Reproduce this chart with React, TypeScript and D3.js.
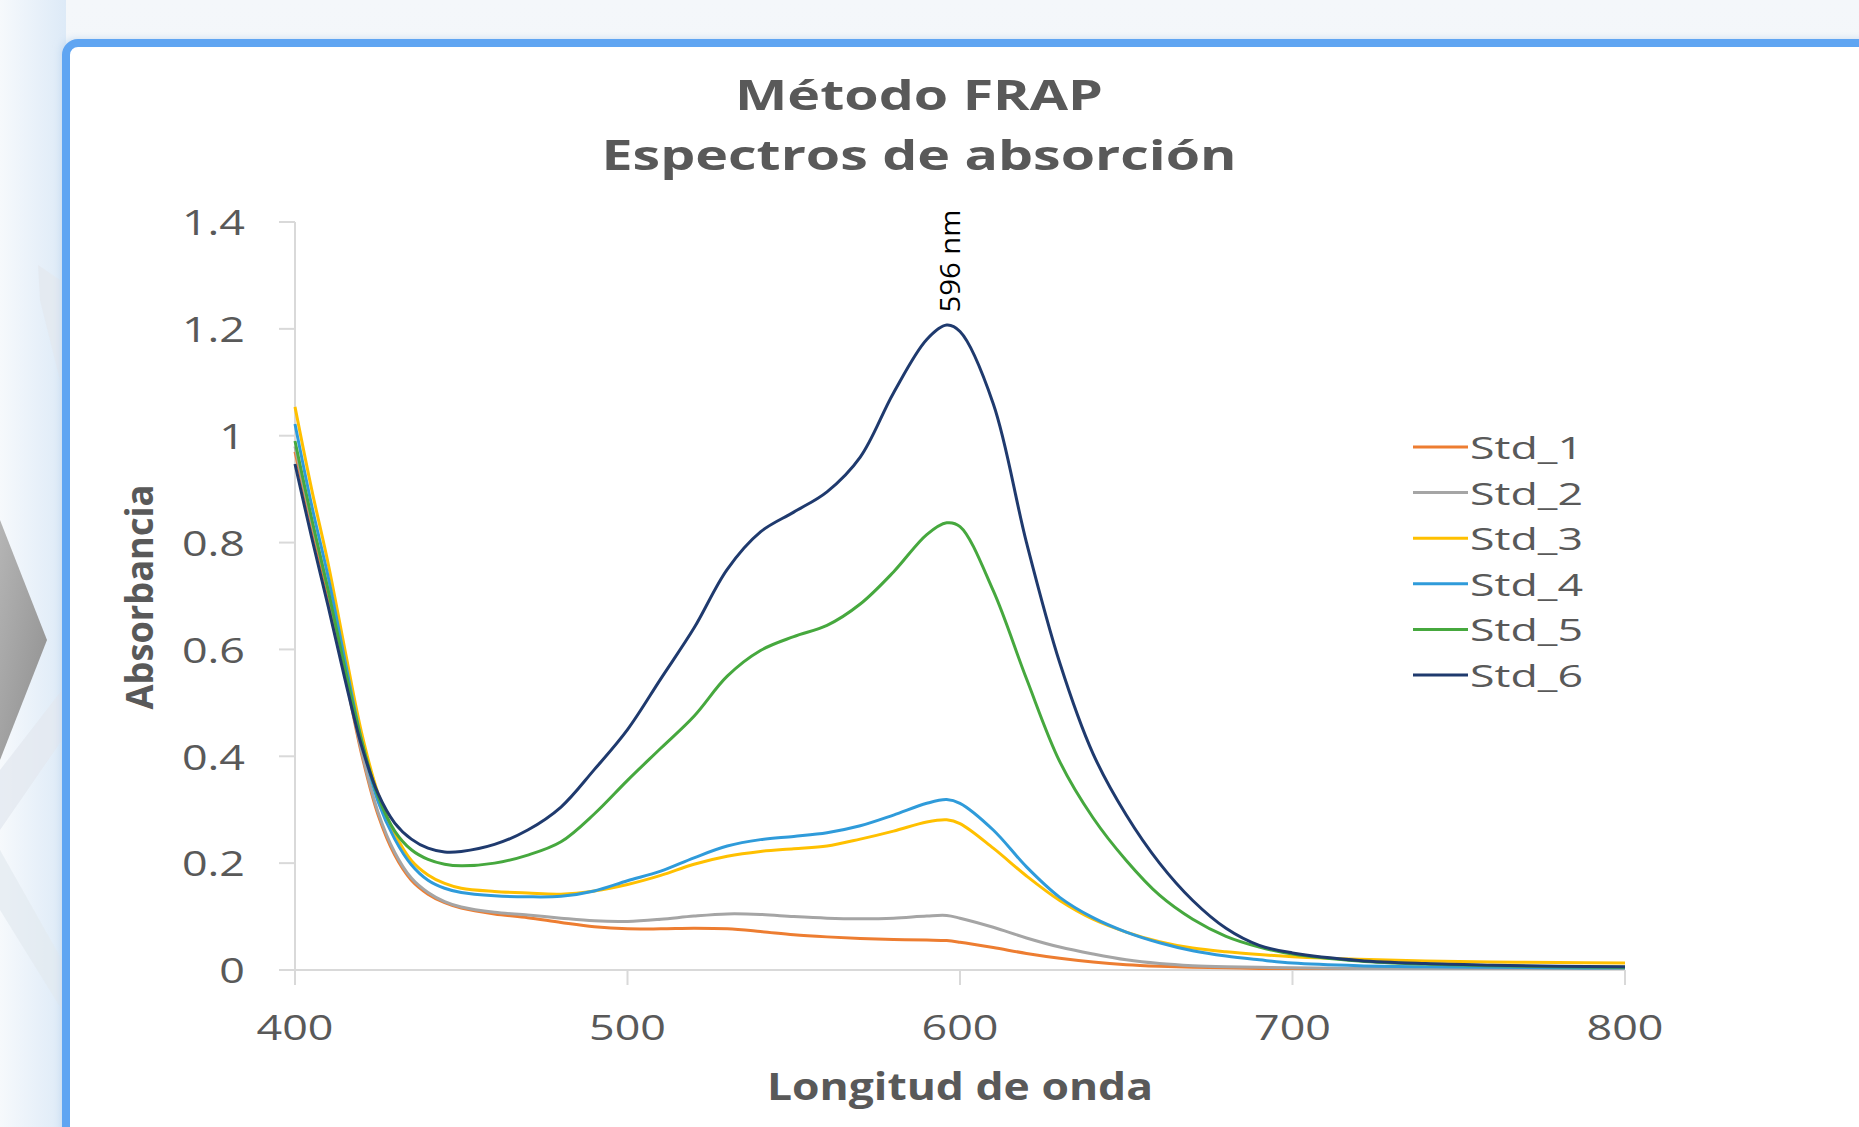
import React from "react";
import * as d3 from "d3";

const W = 1859;
const H = 1127;

// wavelength (nm) samples
const wavelengths = [
  400, 405, 410, 415, 420, 425, 430, 435, 440, 445, 450, 460, 470, 480, 490, 500,
  510, 520, 530, 540, 550, 560, 570, 580, 590, 596, 600, 610, 620, 630, 640, 650,
  660, 670, 680, 690, 700, 720, 740, 760, 780, 800,
];

const std1 = [
  0.97, 0.83, 0.7, 0.555, 0.405, 0.29, 0.215, 0.168, 0.142, 0.126, 0.116, 0.105, 0.098, 0.089, 0.081, 0.077,
  0.077, 0.078, 0.077, 0.072, 0.066, 0.062, 0.059, 0.057, 0.056, 0.055, 0.052, 0.042, 0.031, 0.022, 0.015, 0.01,
  0.007, 0.005, 0.004, 0.003, 0.003, 0.003, 0.003, 0.003, 0.003, 0.003,
];
const std2 = [
  0.98, 0.84, 0.71, 0.56, 0.41, 0.295, 0.22, 0.172, 0.145, 0.128, 0.118, 0.108, 0.103, 0.097, 0.092, 0.091,
  0.095, 0.101, 0.105, 0.104, 0.1, 0.097, 0.096, 0.097, 0.101, 0.102, 0.097, 0.08, 0.06, 0.043, 0.03, 0.019,
  0.012, 0.008, 0.006, 0.005, 0.004, 0.003, 0.003, 0.003, 0.003, 0.003,
];
const std3 = [
  1.054, 0.9, 0.76, 0.6, 0.445, 0.33, 0.255, 0.205, 0.178, 0.162, 0.153, 0.147, 0.144, 0.142, 0.148, 0.16,
  0.177, 0.198, 0.213, 0.222, 0.227, 0.232, 0.245, 0.26, 0.277, 0.281, 0.274, 0.228, 0.176, 0.13, 0.095, 0.071,
  0.053, 0.041, 0.034, 0.029, 0.025, 0.02, 0.017, 0.015, 0.014, 0.013,
];
const std4 = [
  1.022, 0.87, 0.735, 0.58, 0.43, 0.315, 0.245, 0.197, 0.168, 0.153, 0.145, 0.139, 0.137, 0.138, 0.148, 0.167,
  0.185, 0.21, 0.232, 0.244, 0.25, 0.257, 0.27, 0.29, 0.312, 0.319, 0.312, 0.262, 0.193, 0.136, 0.098, 0.071,
  0.051, 0.036, 0.026, 0.019, 0.013, 0.008, 0.006, 0.005, 0.004, 0.004,
];
const std5 = [
  0.99, 0.845, 0.71, 0.565, 0.43, 0.325, 0.26, 0.225, 0.207, 0.198, 0.195, 0.2, 0.215, 0.24, 0.292, 0.355,
  0.415, 0.475, 0.55, 0.598, 0.624, 0.645, 0.685, 0.745, 0.815, 0.837, 0.83, 0.71, 0.545, 0.39, 0.285, 0.205,
  0.14, 0.095, 0.063, 0.043, 0.03, 0.017, 0.011, 0.008, 0.006, 0.005,
];
const std6 = [
  0.947, 0.81, 0.68, 0.545, 0.42, 0.33, 0.275, 0.245, 0.228, 0.221, 0.222, 0.235, 0.262, 0.305, 0.375, 0.45,
  0.545, 0.64, 0.75, 0.82, 0.857, 0.895, 0.96, 1.08, 1.18, 1.207, 1.195, 1.06, 0.8, 0.575, 0.405, 0.29,
  0.2, 0.13, 0.078, 0.046, 0.032, 0.018, 0.012, 0.009, 0.007, 0.006,
];

const seriesNames = ["Std_1", "Std_2", "Std_3", "Std_4", "Std_5", "Std_6"];
const seriesValues = [std1, std2, std3, std4, std5, std6];
const seriesColors = ["#ED7D31", "#A5A5A5", "#FFC000", "#2F9BDA", "#46A83E", "#1F3A6E"];

const xTicks = [400, 500, 600, 700, 800];
const yTicks = [0, 0.2, 0.4, 0.6, 0.8, 1, 1.2, 1.4];
const peakLabel = "596 nm";
const peakWavelength = 596;

const plot = { left: 295, right: 1625, top: 222, bottom: 970 };

export default function App() {
  const x = d3.scaleLinear().domain([400, 800]).range([plot.left, plot.right]);
  const y = d3.scaleLinear().domain([0, 1.4]).range([plot.bottom, plot.top]);

  const line = d3
    .line<number>()
    .x((_, i) => x(wavelengths[i]))
    .y((d) => y(d))
    .curve(d3.curveCatmullRom.alpha(0.5));

  const peakIdx = wavelengths.indexOf(peakWavelength);
  const peakY = y(std6[peakIdx]);
  const peakX = x(peakWavelength);

  const textGrey = "#595959";
  const axisGrey = "#D9D9D9";

  return (
    <svg
      width={W}
      height={H}
      viewBox={`0 0 ${W} ${H}`}
      style={{ position: "absolute", left: 0, top: 0 }}
    >
      <defs>
        <linearGradient id="topBand" x1="0" y1="0" x2="0" y2="1">
          <stop offset="0" stopColor="#F4F7FA" />
          <stop offset="1" stopColor="#E9F1F9" />
        </linearGradient>
        <linearGradient id="leftBand" x1="0" y1="0" x2="1" y2="0">
          <stop offset="0" stopColor="#F6F9FC" />
          <stop offset="1" stopColor="#DDEAF7" />
        </linearGradient>
        <linearGradient id="chev" x1="0" y1="0" x2="1" y2="1">
          <stop offset="0" stopColor="#B5B5B5" />
          <stop offset="1" stopColor="#8E8E8E" />
        </linearGradient>
        <filter id="shadow" x="-5%" y="-5%" width="110%" height="110%">
          <feGaussianBlur stdDeviation="4" />
        </filter>
      </defs>

      {/* page background */}
      <rect x={0} y={0} width={W} height={H} fill="url(#topBand)" />
      <rect x={0} y={0} width={66} height={H} fill="url(#leftBand)" />
      <polygon points="0,520 47,640 0,760" fill="url(#chev)" />
      <polygon points="0,770 62,690 62,740 0,830" fill="#E3E9F0" opacity={0.8} />
      <polygon points="0,850 62,960 62,1010 0,910" fill="#E3E9F0" opacity={0.7} />
      <polygon points="38,265 60,280 60,380 40,300" fill="#E4E9EF" opacity={0.8} />

      {/* chart frame */}
      <rect x={62} y={40} width={W} height={H} rx={12} fill="#BFD7EE" filter="url(#shadow)" />
      <rect x={66} y={43} width={W} height={H} rx={12} fill="#FFFFFF" stroke="#5FA5F2" strokeWidth={8} />

      {/* title */}
      <text
        x={919}
        y={110}
        textAnchor="middle"
        fontFamily="Open Sans"
        fontWeight="bold"
        fontSize={42}
        fill={textGrey}
        textLength={368}
        lengthAdjust="spacingAndGlyphs"
      >
        Método FRAP
      </text>
      <text
        x={919}
        y={170}
        textAnchor="middle"
        fontFamily="Open Sans"
        fontWeight="bold"
        fontSize={42}
        fill={textGrey}
        textLength={635}
        lengthAdjust="spacingAndGlyphs"
      >
        Espectros de absorción
      </text>

      {/* axes */}
      <line x1={plot.left} x2={plot.left} y1={y(1.4)} y2={plot.bottom} stroke={axisGrey} strokeWidth={2} />
      <line x1={279} x2={plot.right} y1={plot.bottom} y2={plot.bottom} stroke={axisGrey} strokeWidth={2} />
      {yTicks.map((t) => (
        <g key={`y${t}`}>
          <line x1={279} x2={plot.left} y1={y(t)} y2={y(t)} stroke={axisGrey} strokeWidth={2} />
          <text
            transform={`translate(245,${y(t)}) scale(1.32,1)`}
            textAnchor="end"
            dominantBaseline="central"
            fontFamily="Open Sans"
            fontSize={34}
            fill={textGrey}
          >
            {String(t)}
          </text>
        </g>
      ))}
      {xTicks.map((t) => (
        <g key={`x${t}`}>
          <line x1={x(t)} x2={x(t)} y1={plot.bottom} y2={plot.bottom + 15} stroke={axisGrey} strokeWidth={2} />
          <text
            transform={`translate(${x(t)},1027) scale(1.32,1)`}
            textAnchor="middle"
            dominantBaseline="central"
            fontFamily="Open Sans"
            fontSize={34}
            fill={textGrey}
          >
            {String(t)}
          </text>
        </g>
      ))}

      {/* axis titles */}
      <text
        x={960}
        y={1100}
        textAnchor="middle"
        fontFamily="Open Sans"
        fontWeight="bold"
        fontSize={38}
        fill={textGrey}
        textLength={386}
        lengthAdjust="spacingAndGlyphs"
      >
        Longitud de onda
      </text>
      <text
        transform="translate(153,597) rotate(-90)"
        textAnchor="middle"
        fontFamily="Open Sans"
        fontWeight="bold"
        fontSize={38}
        fill={textGrey}
        textLength={225}
        lengthAdjust="spacingAndGlyphs"
      >
        Absorbancia
      </text>

      {/* spectra */}
      {seriesValues.map((vals, i) => (
        <path
          key={seriesNames[i]}
          d={line(vals) || ""}
          fill="none"
          stroke={seriesColors[i]}
          strokeWidth={3}
          strokeLinejoin="round"
        />
      ))}

      {/* peak annotation */}
      <text
        transform={`translate(${peakX + 13},${peakY - 64}) rotate(-90)`}
        textAnchor="middle"
        fontFamily="Open Sans"
        fontSize={28}
        fill="#000000"
        textLength={103}
        lengthAdjust="spacingAndGlyphs"
      >
        {peakLabel}
      </text>

      {/* legend */}
      {seriesNames.map((name, i) => {
        const ly = 447 + i * 45.6;
        return (
          <g key={`leg${name}`}>
            <line x1={1413} x2={1468} y1={ly} y2={ly} stroke={seriesColors[i]} strokeWidth={3} />
            <text
              x={1470}
              y={ly}
              dominantBaseline="central"
              fontFamily="Open Sans"
              fontSize={31}
              fill={textGrey}
              textLength={113}
              lengthAdjust="spacingAndGlyphs"
            >
              {name}
            </text>
          </g>
        );
      })}
    </svg>
  );
}
